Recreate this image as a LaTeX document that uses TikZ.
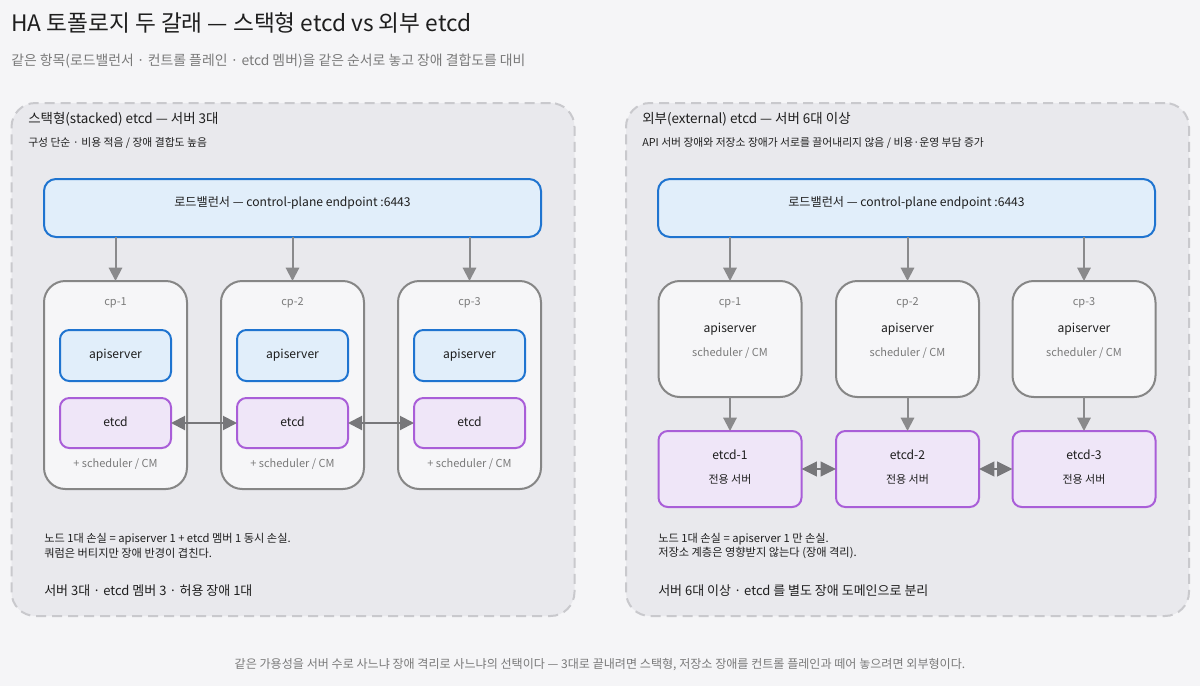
\documentclass[tikz,border=0pt]{standalone}
\usepackage{fontspec}
\setmainfont{Noto Sans CJK KR}
\usetikzlibrary{arrows.meta}
\definecolor{bg}{HTML}{F5F5F7}
\definecolor{panelfill}{HTML}{E9E9ED}
\definecolor{panelline}{HTML}{C9C9CD}
\definecolor{bluefill}{HTML}{E1EEFA}
\definecolor{blueline}{HTML}{1F74D0}
\definecolor{purplefill}{HTML}{EFE6F8}
\definecolor{purpleline}{HTML}{A95ED8}
\definecolor{cpfill}{HTML}{F6F6F8}
\definecolor{cpline}{HTML}{868686}
\definecolor{arrowgray}{HTML}{8A8A8C}
\definecolor{arrowdark}{HTML}{77777A}
\definecolor{ink}{HTML}{1E1E1E}
\definecolor{muted}{HTML}{7A7A7A}
\tikzset{
  sz/.style 2 args={minimum width=#1*0.75pt, minimum height=#2*0.75pt},
  base/.style={inner sep=0pt, outer sep=0pt},
  panel/.style={base, draw=panelline, fill=panelfill, line width=1.5pt, dash pattern=on 7.5pt off 4.5pt, rounded corners=18pt},
  lbbox/.style={base, draw=blueline, fill=bluefill, line width=1.5pt, rounded corners=9pt, sz={497}{58}},
  apibox/.style={base, draw=blueline, fill=bluefill, line width=1.5pt, rounded corners=7pt},
  etcdbox/.style={base, draw=purpleline, fill=purplefill, line width=1.5pt, rounded corners=7pt},
  cpbox/.style={base, draw=cpline, fill=cpfill, line width=1.5pt, rounded corners=16pt},
  txt/.style={inner sep=0pt, text=ink},
  ftitle/.style={font=\fontsize{17}{20}\selectfont},
  fsub/.style={font=\fontsize{10.4}{12.5}\selectfont},
  fptitle/.style={font=\fontsize{10.1}{12}\selectfont},
  f13/.style={font=\fontsize{9.75}{12}\selectfont},
  f12/.style={font=\fontsize{9.1}{11}\selectfont},
  f11/.style={font=\fontsize{8.25}{10}\selectfont},
  fnote/.style={font=\fontsize{8.4}{10.5}\selectfont},
  fsmall/.style={font=\fontsize{8.1}{10}\selectfont},
  ffoot/.style={font=\fontsize{9.05}{11}\selectfont},
  arr/.style={draw=arrowgray, line width=1.5pt, -{Triangle[length=10pt,width=10pt]}},
  darr/.style={draw=arrowdark, line width=1.5pt, {Triangle[length=10.5pt,width=10.5pt]}-{Triangle[length=10.5pt,width=10.5pt]}},
  rdarr/.style={draw=arrowdark, line width=1.5pt, {Triangle[length=11.5pt,width=11pt]}-{Triangle[length=11.5pt,width=11pt]}},
}
\begin{document}
\begin{tikzpicture}[x=0.75pt,y=-0.75pt]
\path[fill=bg] (0,0) rectangle (1200,686);
\useasboundingbox (0,0) rectangle (1200,686);

% header
\node[txt, ftitle, anchor=west] (title) at (11,23) {HA 토폴로지 두 갈래 — 스택형 etcd vs 외부 etcd};
\node[txt, fsub, anchor=west, text=muted] (subtitle) at (11,61) {같은 항목(로드밸런서 · 컨트롤 플레인 · etcd 멤버)을 같은 순서로 놓고 장애 결합도를 대비};

% ===== left panel =====
\node[panel, sz={563}{513}] (pl) at (293,359.5) {};
\node[txt, fptitle, anchor=west] (plt) at (28,119) {스택형(stacked) etcd — 서버 3대};
\node[txt, fsmall, anchor=west] (pls) at (28,143) {구성 단순 · 비용 적음 / 장애 결합도 높음};

\node[lbbox] (lb1) at (292.5,208) {};
\node[txt, f12] (lb1t) at (292.5,203) {로드밸런서 — control-plane endpoint :6443};

\foreach \i/\x in {1/115.5,2/292.5,3/469.5}{
  \node[cpbox, sz={143}{208}] (cp\i) at (\x,385) {};
  \node[txt, f11, text=muted] (cp\i l) at (\x,303) {cp-\i};
  \node[apibox, sz={111}{51}] (api\i) at (\x,355.5) {};
  \node[txt, f12] (api\i t) at (\x,355) {apiserver};
  \node[etcdbox, sz={111}{50}] (etcd\i) at (\x,423) {};
  \node[txt, f12] (etcd\i t) at (\x,422) {etcd};
  \node[txt, f11, text=muted] (cp\i s) at (\x,464) {+ scheduler / CM};
  \draw[arr] (lb1.south -| cp\i.north) -- (cp\i.north);
}
\draw[darr] (etcd1.east) -- (etcd2.west);
\draw[darr] (etcd2.east) -- (etcd3.west);

\node[txt, fnote, anchor=west] (pln1) at (44,539) {노드 1대 손실 = apiserver 1 + etcd 멤버 1 동시 손실.};
\node[txt, fnote, anchor=west] (pln2) at (44,553) {쿼럼은 버티지만 장애 반경이 겹친다.};
\node[txt, f13, anchor=west] (plb) at (44,591) {서버 3대 · etcd 멤버 3 · 허용 장애 1대};

% ===== right panel =====
\node[panel, sz={563}{513}] (pr) at (907.5,359.5) {};
\node[txt, fptitle, anchor=west] (prt) at (642,119) {외부(external) etcd — 서버 6대 이상};
\node[txt, fsmall, anchor=west] (prs) at (642,143) {API 서버 장애와 저장소 장애가 서로를 끌어내리지 않음 / 비용·운영 부담 증가};

\node[lbbox] (lb2) at (906.5,208) {};
\node[txt, f12] (lb2t) at (906.5,203) {로드밸런서 — control-plane endpoint :6443};

\foreach \i/\x in {1/730,2/907.5,3/1084}{
  \node[cpbox, sz={143}{116}] (rcp\i) at (\x,339) {};
  \node[txt, f11, text=muted] (rcp\i l) at (\x,303) {cp-\i};
  \node[txt, f12] (rcp\i a) at (\x,329) {apiserver};
  \node[txt, f11, text=muted] (rcp\i s) at (\x,353) {scheduler / CM};
  \node[etcdbox, sz={143}{76}] (re\i) at (\x,469) {};
  \node[txt, f12] (re\i t) at (\x,455) {etcd-\i};
  \node[txt, f11] (re\i s) at (\x,479) {전용 서버};
  \draw[arr] (lb2.south -| rcp\i.north) -- (rcp\i.north);
  \draw[arr] (rcp\i.south) -- (re\i.north);
}
\draw[rdarr] (re1.east) -- (re2.west);
\draw[rdarr] (re2.east) -- (re3.west);

\node[txt, fnote, anchor=west] (prn1) at (658,539) {노드 1대 손실 = apiserver 1 만 손실.};
\node[txt, fnote, anchor=west] (prn2) at (658,553) {저장소 계층은 영향받지 않는다 (장애 격리).};
\node[txt, f13, anchor=west] (prb) at (658,591) {서버 6대 이상 · etcd 를 별도 장애 도메인으로 분리};

% footer
\node[txt, ffoot, text=muted] (footer) at (600,665) {같은 가용성을 서버 수로 사느냐 장애 격리로 사느냐의 선택이다 — 3대로 끝내려면 스택형, 저장소 장애를 컨트롤 플레인과 떼어 놓으려면 외부형이다.};
\end{tikzpicture}
\end{document}
